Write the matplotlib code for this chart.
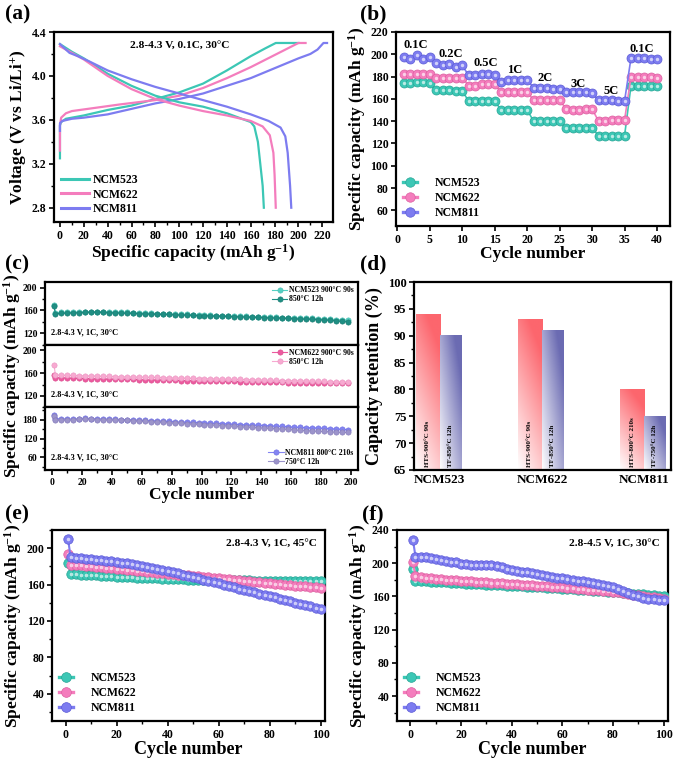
import numpy as np
import matplotlib
matplotlib.use('Agg')
import matplotlib.pyplot as plt
from matplotlib.lines import Line2D
from matplotlib.legend_handler import HandlerTuple
from matplotlib.ticker import MultipleLocator, AutoMinorLocator

plt.rcParams.update({
    'font.family': ['Liberation Serif', 'DejaVu Serif'],
    'font.weight': 'bold',
    'axes.labelweight': 'bold',
    'mathtext.fontset': 'custom',
    'mathtext.rm': 'Liberation Serif:bold',
    'mathtext.it': 'Liberation Serif:bold',
    'mathtext.bf': 'Liberation Serif:bold',
    'mathtext.default': 'rm',
    'axes.linewidth': 1.6,
    'xtick.direction': 'out', 'ytick.direction': 'out',
    'xtick.major.width': 1.2, 'ytick.major.width': 1.2,
    'xtick.minor.width': 1.0, 'ytick.minor.width': 1.0,
    'xtick.major.size': 3.5, 'ytick.major.size': 3.5,
    'xtick.minor.size': 2.0, 'ytick.minor.size': 2.0,
    'xtick.major.pad': 2, 'ytick.major.pad': 2,
})

# ---------------- data ----------------
names = ['NCM523', 'NCM622', 'NCM811']
c_teal, c_pink, c_purp = '#3cc7b5', '#f47dbd', '#7d7cf0'
e_teal, e_pink, e_purp = '#27a595', '#dc5f9f', '#5b5ad6'

# (a) charge / discharge curves
a_ch523_cap = [0, 0, 1, 5, 20, 40, 60, 80, 100, 120, 140, 160, 172, 181, 200]
a_ch523_v = [3.25, 3.55, 3.58, 3.61, 3.64, 3.69, 3.73, 3.79, 3.85, 3.93, 4.05, 4.18, 4.25, 4.30, 4.30]
a_ch622_cap = [0, 0, 1, 5, 10, 30, 50, 80, 100, 120, 140, 160, 180, 200, 206]
a_ch622_v = [3.32, 3.55, 3.62, 3.66, 3.68, 3.71, 3.74, 3.78, 3.82, 3.89, 3.98, 4.08, 4.19, 4.30, 4.30]
a_ch811_cap = [0, 0, 2, 10, 20, 40, 60, 80, 100, 120, 140, 160, 180, 200, 210, 216, 221, 224]
a_ch811_v = [3.50, 3.57, 3.59, 3.61, 3.62, 3.65, 3.70, 3.75, 3.79, 3.84, 3.91, 3.98, 4.07, 4.16, 4.20, 4.24, 4.30, 4.30]

a_dc523_cap = [0, 10, 20, 40, 60, 80, 100, 120, 140, 160, 163, 166, 168, 170, 171]
a_dc523_v = [4.29, 4.22, 4.16, 4.02, 3.91, 3.82, 3.76, 3.72, 3.66, 3.58, 3.54, 3.40, 3.20, 3.00, 2.80]
a_dc622_cap = [0, 10, 20, 40, 60, 80, 100, 120, 140, 160, 170, 176, 179, 180, 181]
a_dc622_v = [4.27, 4.21, 4.15, 4.00, 3.88, 3.79, 3.73, 3.68, 3.64, 3.59, 3.54, 3.46, 3.30, 3.10, 2.80]
a_dc811_cap = [0, 8, 15, 25, 40, 60, 80, 100, 120, 140, 160, 175, 185, 189, 191, 193, 194]
a_dc811_v = [4.29, 4.21, 4.18, 4.13, 4.05, 3.97, 3.90, 3.84, 3.78, 3.72, 3.65, 3.59, 3.53, 3.45, 3.30, 3.00, 2.80]

# (b) rate capability
b_cycles = np.arange(1, 41)
b_523 = [174, 174, 175, 175, 174, 168, 168, 168, 167, 167, 158, 158, 158, 158, 158,
         150, 150, 150, 150, 150, 140, 140, 140, 140, 140, 134, 134, 134, 134, 134,
         127, 127, 127, 127, 127, 172, 172, 172, 172, 172]
b_622 = [182, 182, 182, 182, 182, 179, 179, 179, 179, 179, 172, 172, 173, 173, 173,
         166, 166, 166, 166, 166, 159, 159, 159, 159, 159, 151, 150, 150, 151, 151,
         140, 140, 141, 141, 141, 180, 180, 180, 180, 179]
b_811 = [198, 196, 199, 196, 198, 192, 190, 191, 189, 190, 181, 181, 182, 182, 181,
         175, 177, 177, 177, 177, 170, 170, 170, 169, 169, 166, 166, 166, 166, 165,
         159, 159, 159, 158, 158, 197, 197, 197, 196, 196]
b_rates = ['0.1C', '0.2C', '0.5C', '1C', '2C', '3C', '5C', '0.1C']
b_rate_x = [2.8, 8.2, 13.6, 18.1, 22.8, 27.8, 33.0, 37.7]
b_rate_y = [208, 200, 192, 186, 179, 173, 167, 205]

# (c) long cycling at 1C
c_cycles = [1, 2, 6, 10, 14, 18, 22, 26, 30, 34, 38, 42, 46, 50, 54, 58, 62, 66, 70, 74,
            78, 82, 86, 90, 94, 98, 102, 106, 110, 114, 118, 122, 126, 130, 134, 138,
            142, 146, 150, 154, 158, 162, 166, 170, 174, 178, 182, 186, 190, 194, 198]
c_523_900 = [170, 156, 156.5, 157, 157, 157.5, 158, 158, 158, 158,
             157.5, 157, 157, 156.5, 156, 155.5, 155.5, 155, 154.5, 154,
             154, 153.5, 153, 153, 152.5, 152, 152, 151.5, 151, 151,
             150.5, 150, 150, 149.5, 149, 149, 148.5, 148, 148, 147.5,
             147, 147, 146.5, 146, 146, 145.5, 145, 144.5, 144, 143.5,
             143]
c_523_850 = [167, 154, 155, 155.5, 156, 156, 156.5, 157, 157, 156.5,
             156, 156, 155.5, 155, 155, 154.5, 154, 154, 153.5, 153,
             153, 152.5, 152, 152, 151.5, 151, 151, 150.5, 150, 150,
             149.5, 149, 149, 148.5, 148, 148, 147.5, 147, 147, 146.5,
             146, 145.5, 145, 145, 144.5, 144, 143.5, 143, 142, 141,
             140]
c_622_900 = [156, 152, 152, 151.5, 151, 151, 150.5, 150.5, 150, 150,
             149.5, 149.5, 149, 149, 149, 148.5, 148.5, 148, 148, 148,
             147.5, 147.5, 147, 147, 147, 146.5, 146.5, 146, 146, 146,
             145.5, 145.5, 145, 145, 145, 144.5, 144.5, 144, 144, 144,
             143.5, 143.5, 143.5, 143, 143, 143, 142.5, 142.5, 142.5, 142,
             142]
c_622_850 = [175, 157, 156.5, 156, 156, 155.5, 155.5, 155, 155, 154.5,
             154.5, 154, 154, 153.5, 153.5, 153, 153, 152.5, 152.5, 152,
             152, 151.5, 151.5, 151, 151, 150.5, 150.5, 150, 150, 149.5,
             149.5, 149, 149, 148.5, 148.5, 148, 148, 147.5, 147.5, 147,
             147, 146.5, 146.5, 146, 146, 145.5, 145.5, 145, 145, 144.5,
             144.5]
c_811_800 = [195, 184, 183, 183, 182, 184, 185, 184, 183, 183,
             182, 182, 181, 181, 180, 179, 178, 177, 177, 176,
             175, 174, 173, 173, 172, 171, 170, 169, 169, 168,
             167, 166, 165, 164, 163, 163, 162, 161, 160, 159,
             158, 157, 156, 155, 155, 154, 153, 152, 151, 150,
             149]
c_811_750 = [192, 180, 180, 181, 181, 182, 183, 182, 181, 181,
             180, 180, 179, 178, 177, 176, 175, 174, 173, 172,
             171, 170, 169, 168, 167, 166, 165, 164, 163, 162,
             161, 160, 158, 157, 156, 155, 154, 153, 152, 151,
             150, 148, 147, 146, 145, 144, 143, 142, 141, 140,
             140]

# (d) capacity retention
d_groups = ['NCM523', 'NCM622', 'NCM811']
d_hts = [94, 93, 80]
d_tf = [90, 91, 75]
d_hts_lab = ['HTS-900°C 90s', 'HTS-900°C 90s', 'HTS-800°C 210s']
d_tf_lab = ['TF-850°C 12h', 'TF-850°C 12h', 'TF-750°C 12h']

# (e), (f) cycling 100 cycles
ef_cycles = [1, 2, 4, 6, 8, 10, 12, 14, 16, 18, 20, 22, 24, 26, 28, 30, 32, 34, 36, 38,
             40, 42, 44, 46, 48, 50, 52, 54, 56, 58, 60, 62, 64, 66, 68, 70, 72, 74, 76, 78,
             80, 82, 84, 86, 88, 90, 92, 94, 96, 98, 100]
e_523 = [184, 172, 171.5, 171, 170.7, 170.4, 170, 169.7, 169.4, 169.1,
         168.8, 168.5, 168.2, 168, 167.7, 167.4, 167.2, 167, 166.7, 166.5,
         166.3, 166.1, 165.9, 165.7, 165.5, 165.4, 165.3, 165.2, 165.1, 165,
         164.9, 164.8, 164.7, 164.7, 164.6, 164.5, 164.5, 164.4, 164.4, 164.3,
         164.3, 164.2, 164.2, 164.1, 164.1, 164, 164, 164, 164, 164,
         164]
e_622 = [194, 182, 181.5, 181, 180.5, 180, 179.4, 178.9, 178.4, 177.8,
         177.3, 176.8, 176.3, 175.7, 175.2, 174.7, 174.2, 173.6, 173.1, 172.6,
         172.1, 171.5, 171, 170.5, 170, 169.4, 168.9, 168.4, 167.9, 167.3,
         166.8, 166.3, 165.8, 165.2, 164.7, 164.2, 163.7, 163.1, 162.6, 162.1,
         161.6, 161, 160.5, 160, 159.5, 158.9, 158.4, 157.9, 157.4, 156.8,
         156.3]
e_811 = [210, 190, 189.6, 189.1, 188.6, 188, 187.4, 186.7, 186.1, 185.4,
         184.7, 184, 183.2, 182.4, 181.6, 180.6, 179.6, 178.6, 177.5, 176.3,
         175, 173.7, 172.4, 171, 169.6, 168.2, 166.8, 165.4, 164, 162.6,
         161.2, 159.8, 158.4, 157, 155.6, 154.2, 152.8, 151.4, 150, 148.6,
         147.2, 145.8, 144.4, 143, 141.6, 140.2, 138.8, 137.4, 136, 134.6,
         133.2]
f_523 = [193, 179, 178.6, 178.2, 177.8, 177.5, 177.1, 176.8, 176.4, 176.1,
         175.8, 175.5, 175.2, 174.9, 174.6, 174.3, 174, 173.7, 173.4, 173.1,
         172.8, 172.5, 172.2, 171.9, 171.6, 171.3, 171, 170.6, 170.2, 169.8,
         169.4, 169, 168.6, 168.2, 167.8, 167.4, 167, 166.6, 166.2, 165.8,
         165.4, 165, 164.5, 164, 163.5, 163, 162.5, 162, 161.5, 161,
         160.5]
f_622 = [201, 185, 183.8, 182.8, 182, 181.3, 180.7, 180.2, 179.7, 179.2,
         178.8, 178.4, 178, 177.6, 177.2, 176.8, 176.4, 176, 175.6, 175.2,
         174.8, 174.4, 174, 173.6, 173.2, 172.8, 172.4, 172, 171.6, 171.2,
         170.8, 170.3, 169.8, 169.3, 168.8, 168.3, 167.8, 167.3, 166.7, 166.1,
         165.5, 164.8, 164, 163.2, 162.3, 161.4, 160.5, 159.6, 158.8, 158,
         157.5]
f_811 = [228, 208, 207.5, 207, 206, 205, 204, 203, 202, 201,
         199.5, 198.8, 198.2, 198, 197.8, 197.6, 197.3, 196.5, 195, 193.5,
         192, 191, 190, 189, 188, 186.8, 185.5, 184.5, 183.5, 182.5,
         182, 181, 180, 179, 178, 177, 176, 175, 174, 173,
         171.5, 169.5, 167, 164.5, 162, 160, 158, 157, 156.5, 156,
         156]

# ---------------- helpers ----------------
W, H = 676, 761
fig = plt.figure(figsize=(W / 100, H / 100), dpi=100)

TICK = 8.5
LAB = 12.5
LEG = 8.5


def box(l, t, r, b):
    return [l / W, 1 - b / H, (r - l) / W, (b - t) / H]


def style(ax, fs=TICK):
    ax.tick_params(labelsize=fs, which='both', top=False, right=False)
    for lab in ax.get_xticklabels() + ax.get_yticklabels():
        lab.set_fontweight('bold')


def sphere(ax, x, y, color, edge, ms, lw=1.5, z=3):
    ax.plot(x, y, '-', color=color, lw=lw, zorder=z)
    ax.plot(x, y, 'o', ls='none', ms=ms, mfc=color, mec=edge, mew=0.5, zorder=z)
    ax.plot(x, y, 'o', ls='none', ms=ms * 0.38, mfc='white', mec='none', alpha=0.65, zorder=z)


def sphere_handle(color, edge, ms, lw=2.4):
    h1 = Line2D([], [], color=color, lw=lw, marker='o', ms=ms, mfc=color, mec=edge, mew=0.5)
    h2 = Line2D([], [], ls='none', marker='o', ms=ms * 0.38, mfc='white', mec='none', alpha=0.65)
    return (h1, h2)


def plabel(x, y, s):
    fig.text(x / W, 1 - y / H, s, fontsize=15.5, fontweight='bold', ha='left', va='center')


# ---------------- (a) ----------------
ax = fig.add_axes(box(54, 32, 333, 222))
for cap, v, col in [(a_ch523_cap, a_ch523_v, c_teal), (a_ch622_cap, a_ch622_v, c_pink),
                    (a_ch811_cap, a_ch811_v, c_purp)]:
    ax.plot(cap, v, color=col, lw=1.6)
for cap, v, col, n in [(a_dc523_cap, a_dc523_v, c_teal, names[0]), (a_dc622_cap, a_dc622_v, c_pink, names[1]),
                       (a_dc811_cap, a_dc811_v, c_purp, names[2])]:
    ax.plot(cap, v, color=col, lw=1.6, label=n)
ax.set_xlim(-5, 229)
ax.set_ylim(2.67, 4.4)
ax.xaxis.set_major_locator(MultipleLocator(20))
ax.xaxis.set_minor_locator(MultipleLocator(10))
ax.yaxis.set_minor_locator(MultipleLocator(0.2))
ax.set_yticks([2.8, 3.2, 3.6, 4.0, 4.4])
style(ax)
ax.set_xlabel('Specific capacity (mAh g$^{-1}$)', fontsize=LAB, labelpad=0)
ax.set_ylabel('Voltage (V vs Li/Li$^{+}$)', fontsize=LAB, labelpad=2)
ax.text(100, 4.28, '2.8-4.3 V, 0.1C, 30°C', fontsize=8.2, ha='center', va='center', fontweight='bold')
leg = ax.legend(loc='lower left', frameon=False, handlelength=2.4, borderaxespad=0.2,
                labelspacing=0.2, handletextpad=0.25, prop={'weight': 'bold', 'size': LEG})
for ln in leg.get_lines():
    ln.set_linewidth(2.2)
plabel(5, 14, '(a)')

# ---------------- (b) ----------------
ax = fig.add_axes(box(396, 32, 670, 226))
for y, col, ec in [(b_523, c_teal, e_teal), (b_622, c_pink, e_pink), (b_811, c_purp, e_purp)]:
    sphere(ax, b_cycles, y, col, ec, ms=6.5, lw=1.2)
for s, xx, yy in zip(b_rates, b_rate_x, b_rate_y):
    ax.text(xx, yy, s, fontsize=9, ha='center', va='center', fontweight='bold')
ax.set_xlim(-0.2, 42)
ax.set_ylim(46, 220)
ax.xaxis.set_major_locator(MultipleLocator(5))
ax.set_yticks(np.arange(60, 221, 20))
style(ax)
ax.set_xlabel('Cycle number', fontsize=LAB, labelpad=0)
ax.set_ylabel('Specific capacity (mAh g$^{-1}$)', fontsize=LAB, labelpad=2)
hs = [sphere_handle(c, e, 6.8) for c, e in [(c_teal, e_teal), (c_pink, e_pink), (c_purp, e_purp)]]
ax.legend(hs, names, handler_map={tuple: HandlerTuple(ndivide=None, pad=0)}, loc='lower left',
          frameon=False, handlelength=2.4, labelspacing=0.25, handletextpad=0.25, borderaxespad=0.2,
          prop={'weight': 'bold', 'size': LEG})
plabel(360, 14, '(b)')

# ---------------- (c) ----------------
c_top, c_bot = 282, 470
hgt = (c_bot - c_top) / 3
sub = [
    (c_523_900, '#55d0c3', '#4cbdb1', c_523_850, '#1f8e83', '#187a70', 'NCM523 900°C 90s', (100, 210), [120, 160, 200], 'upper right'),
    (c_622_900, '#ec5a9f', '#d84a8c', c_622_850, '#f7aad1', '#eb93c0', 'NCM622 900°C 90s', (100, 210), [120, 160, 200], 'upper right'),
    (c_811_800, '#8384f2', '#6b6ce0', c_811_750, '#9c94cb', '#8379b8', 'NCM811 800°C 210s', (20, 220), [60, 120, 180], 'lower right'),
]
lab2 = ['850°C 12h', '850°C 12h', '750°C 12h']
for i, (y1, col1, ec1, y2, col2, ec2, l1, ylim, yt, loc) in enumerate(sub):
    t = c_top + i * hgt
    ax = fig.add_axes(box(45, t, 358, t + hgt))
    ax.plot(c_cycles, y1, '-', color=col1, lw=0.8, marker='o', ms=3.8, mfc=col1, mec=ec1, mew=0.4, label=l1, zorder=3)
    ax.plot(c_cycles, y2, '-', color=col2, lw=0.8, marker='o', ms=3.8, mfc=col2, mec=ec2, mew=0.4, label=lab2[i], zorder=4)
    ax.set_xlim(-5, 205)
    ax.set_ylim(*ylim)
    ax.set_yticks(yt)
    ax.yaxis.set_minor_locator(AutoMinorLocator(2))
    ax.xaxis.set_major_locator(MultipleLocator(20))
    ax.xaxis.set_minor_locator(MultipleLocator(10))
    style(ax, fs=7)
    ax.text(-1, ylim[0] + (ylim[1] - ylim[0]) * 0.2, '2.8-4.3 V, 1C, 30°C', fontsize=6, ha='left',
            va='center', fontweight='bold')
    ax.legend(loc=loc, frameon=False, handlelength=2.0, labelspacing=0.15, handletextpad=0.2,
              borderaxespad=0.15, prop={'weight': 'bold', 'size': 5.6})
    if i < 2:
        ax.tick_params(axis='x', which='both', bottom=False, labelbottom=False)
    else:
        ax.set_xlabel('Cycle number', fontsize=LAB, labelpad=0)
fig.text(12 / W, 1 - 376 / H, 'Specific capacity (mAh g$^{-1}$)', rotation=90, fontsize=LAB,
         fontweight='bold', ha='center', va='center')
plabel(5, 264, '(c)')

# ---------------- (d) ----------------
ax = fig.add_axes(box(414, 282, 671, 470))
xg = np.arange(len(d_groups))
bw = 0.235


def grad_bar(ax, x0, x1, y0, y1, rgb, wx, wy):
    nx, ny = 40, 120
    X, Y = np.meshgrid(np.linspace(0, 1, nx), np.linspace(0, 1, ny))
    t = np.clip(wx * X + wy * Y, 0, 1)[..., None]
    img = (1 - t) * np.ones(3) + t * np.array(rgb)
    ax.imshow(img, extent=[x0, x1, y0, y1], origin='lower', aspect='auto', zorder=2,
              interpolation='bilinear')


for i in range(len(d_groups)):
    grad_bar(ax, xg[i] - bw, xg[i], 65, d_hts[i], (0.99, 0.40, 0.43), 0.35, 0.85)
    grad_bar(ax, xg[i], xg[i] + bw * 0.88, 65, d_tf[i], (0.42, 0.42, 0.70), 0.6, 0.6)
    ax.text(xg[i] - bw / 2, 65.6, d_hts_lab[i], rotation=90, fontsize=5, ha='center', va='bottom',
            fontweight='bold', zorder=5)
    ax.text(xg[i] + bw * 0.44, 65.6, d_tf_lab[i], rotation=90, fontsize=5, ha='center', va='bottom',
            fontweight='bold', zorder=5)
ax.set_xlim(-0.25, 2.26)
ax.set_ylim(65, 100)
ax.set_xticks(xg)
ax.set_xticklabels(d_groups)
ax.yaxis.set_major_locator(MultipleLocator(5))
ax.yaxis.set_minor_locator(MultipleLocator(2.5))
style(ax, fs=9)
ax.tick_params(axis='x', length=0, pad=3, labelsize=9.5)
ax.set_ylabel('Capacity retention (%)', fontsize=13, labelpad=3)
plabel(360, 264, '(d)')

# ---------------- (e), (f) ----------------
for (l, r), ys, ylim, yt, txt, lab, px in [
        ((52, 325), (e_523, e_622, e_811), (10, 220), np.arange(40, 201, 40), '2.8-4.3 V, 1C, 45°C', '(e)', 5),
        ((397, 668), (f_523, f_622, f_811), (10, 240), np.arange(40, 241, 40), '2.8-4.5 V, 1C, 30°C', '(f)', 362)]:
    ax = fig.add_axes(box(l, 530, r, 721))
    for y, col, ec in zip(ys, (c_teal, c_pink, c_purp), (e_teal, e_pink, e_purp)):
        sphere(ax, ef_cycles, y, col, ec, ms=6.8, lw=1.5)
    ax.set_xlim(-5.3, 101.7)
    ax.set_ylim(*ylim)
    ax.set_yticks(yt)
    ax.yaxis.set_minor_locator(AutoMinorLocator(2))
    ax.xaxis.set_major_locator(MultipleLocator(20))
    ax.xaxis.set_minor_locator(MultipleLocator(10))
    style(ax)
    ax.set_xlabel('Cycle number', fontsize=13, labelpad=0)
    ax.set_ylabel('Specific capacity (mAh g$^{-1}$)', fontsize=LAB, labelpad=2)
    ax.text(0.97, 0.93, txt, transform=ax.transAxes, fontsize=8.2, ha='right', va='center', fontweight='bold')
    hs = [sphere_handle(c, e, 7) for c, e in [(c_teal, e_teal), (c_pink, e_pink), (c_purp, e_purp)]]
    ax.legend(hs, names, handler_map={tuple: HandlerTuple(ndivide=None, pad=0)}, loc='lower left',
              frameon=False, handlelength=2.4, labelspacing=0.25, handletextpad=0.25, borderaxespad=0.2,
              prop={'weight': 'bold', 'size': LEG})
    plabel(px, 514, lab)

fig.savefig('out.png', dpi=100)
